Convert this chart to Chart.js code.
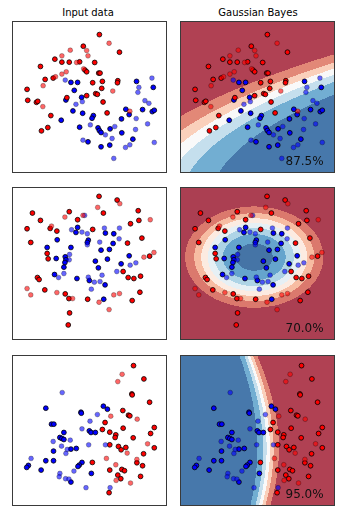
<!DOCTYPE html>
<html><head><meta charset="utf-8">
<script src="https://cdn.jsdelivr.net/npm/chart.js@4.4.0/dist/chart.umd.min.js"></script>
<style>
html,body{margin:0;padding:0;background:#fff;width:358px;height:513px;overflow:hidden;}
canvas{position:absolute;}
.t{position:absolute;font-family:"DejaVu Sans";font-size:10px;color:#000;text-align:center;width:160px;line-height:12px;white-space:nowrap;}
</style></head><body>
<div class="t" style="left:8px;top:7px">Input data</div>
<div class="t" style="left:178px;top:7px">Gaussian Bayes</div>
<canvas id="c0" width="155" height="152" style="left:12px;top:21px"></canvas>
<canvas id="c1" width="155" height="152" style="left:180px;top:21px"></canvas>
<canvas id="c2" width="155" height="153" style="left:12px;top:187px"></canvas>
<canvas id="c3" width="155" height="153" style="left:180px;top:187px"></canvas>
<canvas id="c4" width="155" height="151" style="left:12px;top:355px"></canvas>
<canvas id="c5" width="155" height="151" style="left:180px;top:355px"></canvas>
<script>
// ---------- data ----------
const moonsRedTrain = [[261,417],[213,382],[321,364],[128,343],[149,334],[171,334],[202,335],[247,333],[85,321],[218,310],[223,305],[259,301],[263,301],[99,282],[123,286],[241,272],[270,276],[316,278],[315,272],[45,252],[268,255],[164,227],[223,233],[250,239],[255,237],[47,219],[73,213],[77,216],[272,214],[116,173],[284,181],[107,137],[88,127]];
const moonsRedTest = [[290,391],[223,369],[174,370],[149,353],[227,353],[193,333],[214,314],[162,305],[149,298],[130,290],[93,263],[301,247],[92,200],[352,186]];
const moonsBlueTrain = [[176,273],[196,273],[372,276],[422,258],[186,249],[161,220],[208,228],[340,192],[390,191],[419,185],[425,189],[182,187],[211,180],[243,173],[239,165],[350,176],[327,163],[147,159],[202,138],[257,136],[261,128],[293,133],[266,122],[328,121],[361,102],[227,94],[292,84],[266,79]];
const moonsBlueTest = [[418,286],[159,280],[379,258],[376,243],[210,215],[191,207],[397,218],[409,210],[371,164],[234,145],[307,140],[369,131],[405,148],[279,115],[212,99],[299,104],[352,85],[339,77],[425,92],[304,44]];

const circlesRedTrain = [[260,430],[314,419],[61,380],[171,384],[273,380],[377,387],[85,358],[196,360],[354,348],[379,358],[45,333],[114,334],[134,326],[241,331],[388,305],[56,292],[345,290],[105,259],[108,243],[411,251],[332,205],[76,187],[81,181],[347,187],[364,184],[384,191],[98,150],[159,138],[170,124],[226,122],[382,143],[359,118],[172,81],[168,45]];
const circlesRedTest = [[322,408],[256,397],[158,368],[118,341],[413,360],[424,262],[394,248],[45,154],[56,135],[134,142],[181,124],[260,113],[304,135],[321,139],[290,91],[212,373]];
const circlesBlueTrain = [[196,337],[191,322],[279,320],[304,318],[135,300],[228,299],[225,292],[302,289],[105,277],[176,277],[266,269],[291,271],[159,249],[161,240],[132,244],[350,252],[285,242],[249,236],[158,232],[326,228],[155,218],[258,216],[127,196],[194,184],[231,178],[278,165],[274,122]];
const circlesBlueTest = [[178,330],[209,323],[225,318],[276,335],[321,335],[320,303],[262,293],[225,285],[172,256],[171,240],[370,231],[353,224],[313,205],[269,194],[139,187],[155,199],[228,188],[246,173],[263,175],[237,152],[217,373]];

const linearRedTrain = [[363,422],[394,382],[358,337],[359,334],[411,312],[331,287],[348,273],[352,271],[278,251],[270,230],[292,222],[332,234],[425,236],[414,218],[310,214],[308,206],[362,205],[292,184],[318,179],[326,169],[340,176],[393,157],[425,175],[240,131],[373,130],[390,121],[292,108],[328,110],[336,106],[316,93],[325,82],[384,89],[290,40]];
const linearRedTest = [[329,396],[316,374],[295,270],[374,261],[405,187],[282,143],[344,159],[373,140],[310,124],[311,77],[354,69]];
const linearBlueTrain = [[101,294],[206,282],[207,279],[273,300],[285,291],[118,246],[125,246],[155,221],[231,226],[236,221],[249,221],[143,206],[149,203],[155,200],[176,171],[192,173],[124,165],[101,136],[124,136],[49,122],[44,116],[87,108],[209,131],[201,123],[197,119],[237,98],[176,72]];
const linearBlueTest = [[150,341],[255,275],[233,255],[209,232],[123,194],[174,198],[148,180],[165,170],[161,158],[229,184],[279,184],[57,143],[185,105],[143,98],[141,88],[160,82],[170,81],[221,55],[293,55]];

const xMaxes = [463, 463, 463];
const yMaxes = [458, 458, 454];
const scores = ["87.5%", "70.0%", "95.0%"];

// ---------- styles ----------
// RdBu colormap anchors (red -> blue)
const rdbu = [[103,0,31],[178,24,43],[214,96,77],[244,165,130],[253,219,199],[247,247,247],[209,229,240],[146,197,222],[67,147,195],[33,102,172],[5,48,97]];
const fillAlpha = 0.8;
function cmapRdBu(t){
  t = Math.min(1, Math.max(0, t));
  const f = t*10, i = Math.min(9, Math.floor(f)), r = f - i;
  const a = rdbu[i], b = rdbu[i+1];
  return [0,1,2].map(k => Math.round((a[k] + (b[k]-a[k])*r)*fillAlpha + 255*(1-fillAlpha)));
}
// contour levels chosen like an automatic "nice" locator (8 bins)
function autoLevels(zmin, zmax){
  const nbins = 8, steps = [1,1.5,2,2.5,3,4,5,6,8,10];
  const dv = zmax - zmin, raw = dv / nbins;
  const scale = Math.pow(10, Math.floor(Math.log10(raw)));
  let step = steps[steps.length-1]*scale;
  for (const s of steps){ if (s*scale >= raw*(1-1e-10)){ step = s*scale; break; } }
  const best = Math.floor(zmin/step)*step;
  const low = Math.floor((zmin-best)/step + 1e-10);
  const high = Math.ceil((zmax-best)/step - 1e-10);
  let lev = [];
  for (let i = low; i <= high; i++) lev.push(best + i*step);
  let i0 = 0, i1 = lev.length;
  for (let i = 0; i < lev.length; i++) if (lev[i] < zmin) i0 = i;
  for (let i = lev.length-1; i >= 0; i--) if (lev[i] > zmax) i1 = i+1;
  if (i1 - i0 >= 3) lev = lev.slice(i0, i1);
  return lev;
}

// Gaussian naive Bayes fitted on the training points
function fitNB(red, blue){
  function stats(pts){
    const n = pts.length; let mx=0,my=0;
    pts.forEach(p=>{mx+=p[0];my+=p[1];}); mx/=n; my/=n;
    let vx=0,vy=0; pts.forEach(p=>{vx+=(p[0]-mx)**2; vy+=(p[1]-my)**2;});
    return {n, mx, my, vx:vx/n, vy:vy/n};
  }
  const a = stats(red), b = stats(blue), N = a.n + b.n;
  return {a, b, pa:a.n/N, pb:b.n/N};
}
function probBlue(m, x, y){
  const ll = (s, pr) => Math.log(pr) - 0.5*(Math.log(s.vx)+Math.log(s.vy)+(x-s.mx)**2/s.vx+(y-s.my)**2/s.vy);
  const la = ll(m.a, m.pa), lb = ll(m.b, m.pb);
  return 1/(1+Math.exp(la-lb));
}

const contourPlugin = {
  id: 'nbContour',
  beforeDatasetsDraw(chart, args, opts){
    if (!opts.model) return;
    const {ctx, chartArea:a, scales:{x, y}} = chart;
    const w = Math.round(a.right - a.left), h = Math.round(a.bottom - a.top);
    const z = new Float64Array(w*h);
    let zmin = Infinity, zmax = -Infinity;
    for (let j = 0; j < h; j++){
      const yv = y.getValueForPixel(a.top + j + 0.5);
      for (let i = 0; i < w; i++){
        const xv = x.getValueForPixel(a.left + i + 0.5);
        const p = probBlue(opts.model, xv, yv);
        z[j*w+i] = p; if (p < zmin) zmin = p; if (p > zmax) zmax = p;
      }
    }
    const lev = autoLevels(zmin, zmax);
    const l0 = lev[0], l1 = lev[lev.length-1];
    const cols = [];
    for (let k = 0; k < lev.length-1; k++) cols.push(cmapRdBu(((lev[k]+lev[k+1])/2 - l0)/(l1 - l0)));
    const img = ctx.createImageData(w, h);
    for (let q = 0; q < w*h; q++){
      const p = z[q];
      let k = 0; while (k < cols.length-1 && p > lev[k+1]) k++;
      const c = cols[k], o = q*4;
      img.data[o]=c[0]; img.data[o+1]=c[1]; img.data[o+2]=c[2]; img.data[o+3]=255;
    }
    ctx.putImageData(img, Math.round(a.left), Math.round(a.top));
  }
};
const scorePlugin = {
  id: 'score',
  afterDatasetsDraw(chart, args, opts){
    if (!opts.text) return;
    const {ctx, scales:{x, y}} = chart;
    ctx.save();
    ctx.font = '12px "DejaVu Sans"';
    ctx.fillStyle = '#111';
    ctx.textAlign = 'right';
    ctx.textBaseline = 'alphabetic';
    ctx.fillText(opts.text, x.getPixelForValue(x.max - 34), y.getPixelForValue(y.min + 23));
    ctx.restore();
  }
};
const framePlugin = {
  id: 'frame',
  afterDraw(chart){
    const {ctx, chartArea:a} = chart;
    ctx.save();
    ctx.strokeStyle = '#3a3a3a'; ctx.lineWidth = 1;
    ctx.strokeRect(a.left+0.5, a.top+0.5, a.right-a.left-1, a.bottom-a.top-1);
    ctx.restore();
  }
};

const toXY = arr => arr.map(p => ({x:p[0], y:p[1]}));

function makeChart(id, g, xmax, ymax, model, score){
  new Chart(document.getElementById(id), {
    type: 'scatter',
    data: { datasets: [
      {data: toXY(g.redTrain), backgroundColor:'#ff0000', borderColor:'#000', order:2},
      {data: toXY(g.blueTrain), backgroundColor:'#0000ff', borderColor:'#000', order:2},
      {data: toXY(g.redTest), backgroundColor:'rgba(255,0,0,0.6)', borderColor:'rgba(0,0,0,0.35)', order:1},
      {data: toXY(g.blueTest), backgroundColor:'rgba(0,0,255,0.6)', borderColor:'rgba(0,0,0,0.35)', order:1}
    ]},
    options: {
      responsive:false, animation:false, devicePixelRatio:1,
      layout:{padding:0, autoPadding:false},
      scales:{
        x:{type:'linear', min:0, max:xmax, display:false},
        y:{type:'linear', min:0, max:ymax, display:false}
      },
      elements:{point:{radius:2.4, borderWidth:0.8, hoverRadius:2.4, hoverBorderWidth:0.8}},
      events:[],
      plugins:{legend:{display:false}, tooltip:{enabled:false}, nbContour:{model}, score:{text:score}}
    },
    plugins:[contourPlugin, scorePlugin, framePlugin]
  });
}

const groups = [
  {redTrain:moonsRedTrain, redTest:moonsRedTest, blueTrain:moonsBlueTrain, blueTest:moonsBlueTest},
  {redTrain:circlesRedTrain, redTest:circlesRedTest, blueTrain:circlesBlueTrain, blueTest:circlesBlueTest},
  {redTrain:linearRedTrain, redTest:linearRedTest, blueTrain:linearBlueTrain, blueTest:linearBlueTest}
];
groups.forEach((g, r) => {
  makeChart('c'+(2*r), g, xMaxes[r], yMaxes[r], null, null);
  makeChart('c'+(2*r+1), g, xMaxes[r], yMaxes[r], fitNB(g.redTrain, g.blueTrain), scores[r]);
});
</script>
</body></html>
